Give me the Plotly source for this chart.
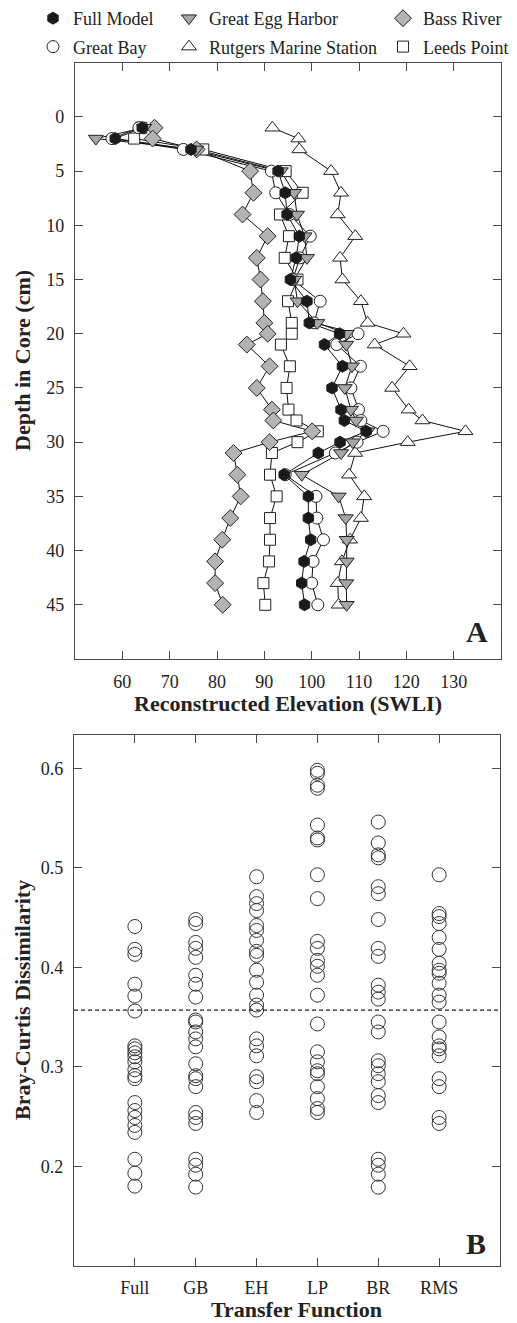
import plotly.graph_objects as go

# ---------------- Panel A data ----------------
depths = [1, 2, 3, 5, 7, 9, 11, 13, 15, 17, 19, 20, 21, 23, 25, 27, 28, 29, 30, 31, 33, 35, 37, 39, 41, 43, 45]

full_model = [64.2, 58.5, 74.5, 92.9, 94.4, 94.8, 97.4, 96.7, 95.5, 99.0, 99.5, 105.9, 102.7, 106.5, 104.3,
              106.2, 106.9, 111.5, 106.0, 101.4, 94.2, 99.3, 99.3, 99.8, 98.4, 97.9, 98.5]
great_bay = [63.5, 57.8, 72.9, 91.5, 92.4, 95.3, 99.7, 97.5, 96.0, 101.8, 100.5, 109.8, 105.3, 110.3, 108.3,
             109.9, 110.4, 115.1, 109.6, 105.0, 94.4, 100.9, 101.1, 102.5, 100.3, 100.0, 101.3]
great_egg_harbor = [64.6, 54.4, 75.6, 93.5, 96.3, 96.9, 98.5, 99.0, 96.3, 97.0, 101.2, 107.4, 107.3, 108.5, 107.0,
                    108.3, 109.4, 111.8, 108.7, 106.2, 97.9, 105.7, 107.2, 107.4, 107.4, 107.3, 107.4]
rutgers = [91.7, 97.2, 97.4, 104.1, 106.2, 105.5, 109.2, 106.0, 106.5, 110.4, 111.8, 119.4, 113.3, 120.7, 117.0,
           120.5, 123.4, 132.5, 120.3, 109.2, 107.9, 111.1, 110.4, 108.1, 106.4, 105.5, 105.7]
bass_river = [66.8, 66.4, 75.7, 87.0, 87.7, 85.4, 90.7, 88.4, 89.2, 89.7, 90.0, 90.7, 86.3, 91.1, 88.4,
              91.6, 91.9, 100.1, 91.1, 83.5, 84.3, 85.0, 82.8, 81.1, 79.6, 79.6, 81.2]
leeds_point = [64.0, 62.5, 77.1, 94.5, 98.1, 93.3, 95.2, 94.3, 97.0, 95.0, 95.8, 95.8, 93.5, 95.4, 94.7,
               95.1, 96.8, 101.3, 97.0, 91.6, 91.2, 92.6, 91.2, 91.2, 91.0, 89.8, 90.2]

# ---------------- Panel B data ----------------
tf_labels = ["Full", "GB", "EH", "LP", "BR", "RMS"]
bc_full = [0.441, 0.418, 0.413, 0.383, 0.371, 0.356, 0.321, 0.318, 0.314, 0.310, 0.305, 0.297, 0.291, 0.288,
           0.264, 0.256, 0.249, 0.241, 0.234, 0.207, 0.193, 0.180]
bc_gb = [0.448, 0.444, 0.425, 0.419, 0.410, 0.392, 0.383, 0.370, 0.347, 0.345, 0.335, 0.328, 0.320, 0.303,
         0.291, 0.288, 0.280, 0.254, 0.249, 0.243, 0.207, 0.201, 0.192, 0.179]
bc_eh = [0.491, 0.471, 0.464, 0.457, 0.442, 0.437, 0.427, 0.416, 0.412, 0.397, 0.385, 0.372, 0.362, 0.357,
         0.328, 0.321, 0.311, 0.290, 0.285, 0.266, 0.254]
bc_lp = [0.598, 0.595, 0.583, 0.580, 0.543, 0.530, 0.528, 0.493, 0.469, 0.426, 0.419, 0.407, 0.401, 0.392,
         0.372, 0.343, 0.315, 0.305, 0.296, 0.293, 0.280, 0.268, 0.258, 0.254]
bc_br = [0.546, 0.525, 0.513, 0.510, 0.481, 0.474, 0.448, 0.419, 0.411, 0.382, 0.375, 0.368, 0.345, 0.335,
         0.306, 0.301, 0.293, 0.285, 0.271, 0.264, 0.207, 0.201, 0.192, 0.179]
bc_rms = [0.493, 0.454, 0.451, 0.444, 0.430, 0.418, 0.404, 0.397, 0.394, 0.384, 0.372, 0.365, 0.345, 0.330,
          0.321, 0.318, 0.311, 0.288, 0.280, 0.249, 0.243]
bc_threshold = 0.357

W, H = 517, 1323
FONT = "Liberation Serif"
TXT = "#222222"
AX = "#4a4a4a"


def px(x):
    return x / W


def py(y):
    return 1 - y / H


fig = go.Figure()

# (name, values, symbol, fill, size, legend, legend rank)
series = [
    ("Full Model", full_model, "hexagon", "#1a1a1a", 12, "legend", 1),
    ("Great Bay", great_bay, "circle", "white", 12, "legend", 2),
    ("Great Egg Harbor", great_egg_harbor, "triangle-down", "#a6a6a6", 13, "legend2", 1),
    ("Rutgers Marine Station", rutgers, "triangle-up", "white", 13, "legend2", 2),
    ("Bass River", bass_river, "diamond", "#b3b3b3", 13, "legend3", 1),
    ("Leeds Point", leeds_point, "square", "white", 11, "legend3", 2),
]

# lines first (beneath all markers)
for name, vals, sym, fill, size, lg, rank in series:
    fig.add_trace(go.Scatter(x=vals, y=depths, mode="lines", line=dict(color="#111111", width=1),
                             showlegend=False, hoverinfo="skip", xaxis="x", yaxis="y"))

# markers: drawing order so that the filled hexagons end up on top
draw_order = [5, 4, 3, 1, 2, 0]
for idx in draw_order:
    name, vals, sym, fill, size, lg, rank = series[idx]
    fig.add_trace(go.Scatter(x=vals, y=depths, mode="markers", name=name, legend=lg, legendgroup=name,
                             legendrank=rank,
                             marker=dict(symbol=sym, size=size, color=fill,
                                         line=dict(color="#222222", width=1)),
                             xaxis="x", yaxis="y"))

# Panel B
bc_all = [bc_full, bc_gb, bc_eh, bc_lp, bc_br, bc_rms]
for i, vals in enumerate(bc_all):
    fig.add_trace(go.Scatter(x=[i + 1] * len(vals), y=vals, mode="markers", showlegend=False,
                             marker=dict(symbol="circle", size=14, color="rgba(255,255,255,0)",
                                         line=dict(color="#333333", width=1)),
                             xaxis="x2", yaxis="y2"))

fig.add_trace(go.Scatter(x=[0, 7], y=[bc_threshold, bc_threshold], mode="lines", showlegend=False,
                         line=dict(color="#222222", width=1.3, dash="4px,3px"), xaxis="x2", yaxis="y2"))

axis_common = dict(showline=True, linecolor=AX, linewidth=1.3, mirror="ticks", ticks="inside",
                   ticklen=8, tickcolor=AX, tickwidth=1.2, showgrid=False, zeroline=False,
                   tickfont=dict(family=FONT, size=18, color=TXT))

legend_common = dict(orientation="v", yanchor="top", xanchor="left", bgcolor="rgba(0,0,0,0)",
                     font=dict(family=FONT, size=18, color=TXT), itemwidth=30, tracegroupgap=2)

fig.update_layout(
    width=W, height=H, margin=dict(l=0, r=0, t=0, b=0),
    paper_bgcolor="white", plot_bgcolor="white",
    xaxis=dict(domain=[px(75), px(501)], range=[50, 140], tickvals=[60, 70, 80, 90, 100, 110, 120, 130],
               anchor="y", ticklabelstandoff=6, **axis_common),
    yaxis=dict(domain=[py(659), py(62.7)], range=[50, -5], tickvals=[0, 5, 10, 15, 20, 25, 30, 35, 40, 45],
               anchor="x", ticklabelstandoff=6, **axis_common),
    xaxis2=dict(domain=[px(74), px(500)], range=[0, 7], tickvals=[1, 2, 3, 4, 5, 6], ticktext=tf_labels,
                anchor="y2", ticklabelstandoff=6, **axis_common),
    yaxis2=dict(domain=[py(1265.7), py(735)], range=[0.1, 0.6335], tickvals=[0.2, 0.3, 0.4, 0.5, 0.6],
                tickformat=".1f", anchor="x2", ticklabelstandoff=6, **axis_common),
    legend=dict(x=px(33), y=1.0, **legend_common),
    legend2=dict(x=px(169), y=1.0, **legend_common),
    legend3=dict(x=px(383), y=1.0, **legend_common),
    showlegend=True,
)

title_font = dict(family=FONT, size=22, color=TXT)
annos = [
    dict(text="<b>Reconstructed Elevation (SWLI)</b>", x=px(288), y=py(703), font=title_font),
    dict(text="<b>Transfer Function</b>", x=px(296), y=py(1309), font=title_font),
    dict(text="<b>Depth in Core (cm)</b>", x=px(22), y=py(361), font=title_font, textangle=-90),
    dict(text="<b>Bray-Curtis Dissimilarity</b>", x=px(22), y=py(1000), font=title_font, textangle=-90),
    dict(text="<b>A</b>", x=px(477), y=py(631), font=dict(family=FONT, size=30, color=TXT)),
    dict(text="<b>B</b>", x=px(476), y=py(1243), font=dict(family=FONT, size=30, color=TXT)),
]
for a in annos:
    fig.add_annotation(xref="paper", yref="paper", xanchor="center", yanchor="middle",
                       showarrow=False, **a)

fig.write_html("out.html")
